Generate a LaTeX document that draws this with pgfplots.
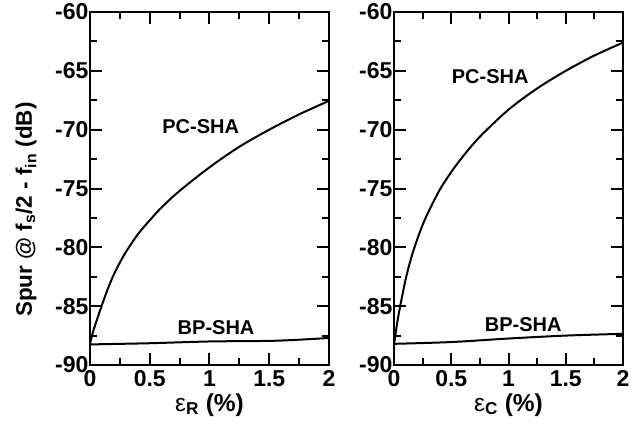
\documentclass[border=0pt]{standalone}
\usepackage{fontspec}
\setmainfont{Liberation Sans}
\usepackage{pgfplots}
\pgfplotsset{compat=1.18}

\tikzset{
  tag/.style={font=\fontsize{20}{24}\selectfont\bfseries},
  xlab/.style={font=\fontsize{24.5}{29}\selectfont\bfseries, anchor=base},
  ylab/.style={font=\fontsize{22.5}{27}\selectfont\bfseries, anchor=base, rotate=90},
}
\pgfplotsset{
  spurstyle/.style={
    scale only axis,
    height=353pt,
    xmin=0, xmax=2, ymin=-90, ymax=-60,
    xtick={0,0.5,...,2}, ytick={-90,-85,...,-60},
    minor x tick num=1, minor y tick num=1,
    tick align=inside, tick pos=both,
    major tick length=12pt, minor tick length=7pt,
    axis line style={line width=2.2pt},
    every tick/.style={line width=2pt, black},
    /pgf/number format/assume math mode=true,
    tick label style={font=\fontsize{23}{27}\selectfont\bfseries},
    xticklabel style={yshift=-2pt},
    yticklabel style={xshift=2pt},
    clip=false,
  },
  curve/.style={black, line width=2pt, smooth},
}

\begin{document}
\begin{tikzpicture}
\path[use as bounding box] (-90pt,-59pt) rectangle (551pt,365pt);

\begin{axis}[spurstyle, width=239pt, at={(0,0)}]
\addplot[curve] coordinates {
  (0,-88.2) (0.025,-87.2) (0.05,-86.4) (0.1,-84.9) (0.15,-83.5)
  (0.2,-82.3) (0.25,-81.3) (0.3,-80.4) (0.4,-78.9) (0.5,-77.7)
  (0.6,-76.6) (0.75,-75.2) (1.0,-73.2) (1.25,-71.45) (1.5,-70.0)
  (1.75,-68.7) (2.0,-67.55)
};
\addplot[curve] coordinates {
  (0,-88.25) (0.5,-88.15) (1,-88.0) (1.5,-87.95) (1.75,-87.85) (2,-87.7)
};
\node[tag] at (axis cs:0.926,-69.75) {PC-SHA};
\node[tag] at (axis cs:1.055,-86.8) {BP-SHA};
\node[xlab] at ([yshift=-46pt]rel axis cs:0.5,0) {{\mdseries ε}\textsubscript{R} (\%)};
\node[ylab] at ([xshift=-58pt]rel axis cs:0,0.44) {Spur @ f\textsubscript{s}/2 - f\textsubscript{in} (dB)};
\end{axis}

\begin{axis}[spurstyle, width=229pt, at={(304pt,0)}]
\addplot[curve] coordinates {
  (0,-88.3) (0.025,-86.6) (0.05,-85.2) (0.1,-82.8) (0.15,-80.9)
  (0.2,-79.4) (0.25,-78.1) (0.3,-77.0) (0.4,-75.1) (0.5,-73.6)
  (0.6,-72.3) (0.75,-70.6) (1.0,-68.3) (1.25,-66.5) (1.5,-65.0)
  (1.75,-63.7) (2.0,-62.6)
};
\addplot[curve] coordinates {
  (0,-88.2) (0.5,-88.05) (1,-87.75) (1.5,-87.5) (2,-87.35)
};
\node[tag] at (axis cs:0.84,-65.45) {PC-SHA};
\node[tag] at (axis cs:1.128,-86.6) {BP-SHA};
\node[xlab] at ([yshift=-46pt]rel axis cs:0.5,0) {{\mdseries ε}\textsubscript{C} (\%)};
\end{axis}
\end{tikzpicture}
\end{document}
